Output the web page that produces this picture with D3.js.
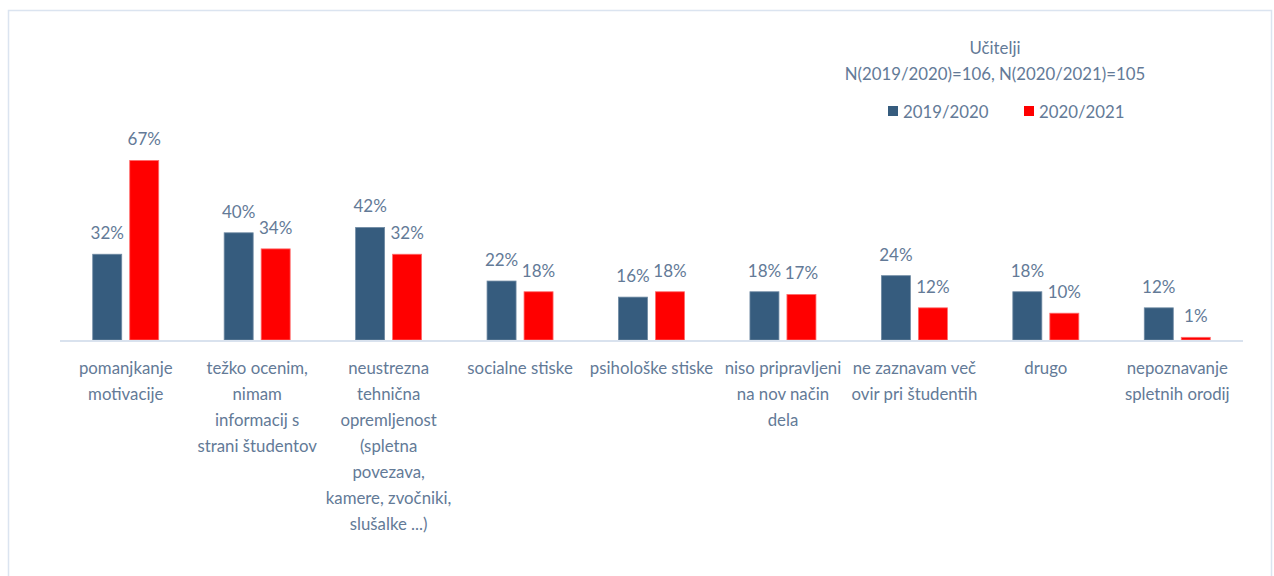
<!DOCTYPE html>
<html>
<head>
<meta charset="utf-8">
<script src="https://cdn.jsdelivr.net/npm/d3@7"></script>
<style>
  body { margin: 0; background: #fff; }
  text { font-family: Lato, "Open Sans", sans-serif; fill: #637a97; }
</style>
</head>
<body>
<svg width="1274" height="576"></svg>
<script>
var categories = [
  "pomanjkanje\nmotivacije",
  "težko ocenim,\nnimam\ninformacij s\nstrani študentov",
  "neustrezna\ntehnična\nopremljenost\n(spletna\npovezava,\nkamere, zvočniki,\nslušalke ...)",
  "socialne stiske",
  "psihološke stiske",
  "niso pripravljeni\nna nov način\ndela",
  "ne zaznavam več\novir pri študentih",
  "drugo",
  "nepoznavanje\nspletnih orodij"
];
var series = ["2019/2020", "2020/2021"];
var values2019 = [32, 40, 42, 22, 16, 18, 24, 18, 12];
var values2020 = [67, 34, 32, 18, 18, 17, 12, 10, 1];
var colors = ["#365c7e", "#ff0000"];

var svg = d3.select("svg"),
    width = +svg.attr("width"),
    height = +svg.attr("height");

// outer frame
svg.append("rect")
   .attr("x", 8.5).attr("y", 10.5)
   .attr("width", 1263).attr("height", 580)
   .style("fill", "none")
   .style("stroke", "#dbe4f0")
   .style("stroke-width", "1.5");

var x = d3.scaleBand()
          .domain(d3.range(categories.length))
          .range([60, 1243]);

var y = d3.scaleLinear()
          .domain([0, 100])
          .range([340, 72]);

var barW = 29, gap = 8;

var data = categories.map(function(c, i) {
  return { i: i, vals: [values2019[i], values2020[i]] };
});

var g = svg.selectAll(".grp")
           .data(data)
           .enter().append("g")
           .attr("class", "grp")
           .attr("transform", function(d) { return "translate(" + (x(d.i) + x.bandwidth() / 2) + ",0)"; });

g.selectAll("rect")
 .data(function(d) { return d.vals.map(function(v, k) { return { v: v, k: k }; }); })
 .enter().append("rect")
 .attr("x", function(d) { return d.k == 0 ? -barW - gap / 2 : gap / 2; })
 .attr("y", function(d) { return y(d.v); })
 .attr("width", barW)
 .attr("height", function(d) { return y(0) - y(d.v); })
 .style("fill", function(d) { return colors[d.k]; })
 .style("stroke", function(d) { return d.k == 0 ? "#6f8aa3" : "#ff6b6b"; })
 .style("stroke-width", "0.8");

g.selectAll(".val")
 .data(function(d) { return d.vals.map(function(v, k) { return { v: v, k: k }; }); })
 .enter().append("text")
 .attr("class", "val")
 .attr("x", function(d) { return d.k == 0 ? -barW / 2 - gap / 2 : barW / 2 + gap / 2; })
 .attr("y", function(d) { return y(d.v) - 15; })
 .attr("text-anchor", "middle")
 .style("font-size", "17px")
 .text(function(d) { return d.v + "%"; });

// axis baseline
svg.append("line")
   .attr("x1", x.range()[0]).attr("x2", x.range()[1])
   .attr("y1", y(0) + 1).attr("y2", y(0) + 1)
   .style("stroke", "#d9e2ee")
   .style("stroke-width", "2");

// category labels
g.append("text")
 .attr("text-anchor", "middle")
 .style("font-size", "16.8px")
 .selectAll("tspan")
 .data(function(d) { return categories[d.i].split("\n"); })
 .enter().append("tspan")
 .attr("x", 0)
 .attr("y", function(d, j) { return 374 + j * 26; })
 .text(function(d) { return d; });

// title
svg.append("text")
   .attr("x", 995).attr("y", 54)
   .attr("text-anchor", "middle")
   .style("font-size", "16.8px")
   .text("Učitelji");
svg.append("text")
   .attr("x", 995).attr("y", 80)
   .attr("text-anchor", "middle")
   .style("font-size", "16.8px")
   .text("N(2019/2020)=106, N(2020/2021)=105");

// legend
var legX = [888, 1024];
series.forEach(function(s, k) {
  svg.append("rect")
     .attr("x", legX[k]).attr("y", 106)
     .attr("width", 10).attr("height", 10)
     .style("fill", colors[k]);
  svg.append("text")
     .attr("x", legX[k] + 15).attr("y", 118)
     .style("font-size", "16.8px")
     .text(s);
});
</script>
</body>
</html>
